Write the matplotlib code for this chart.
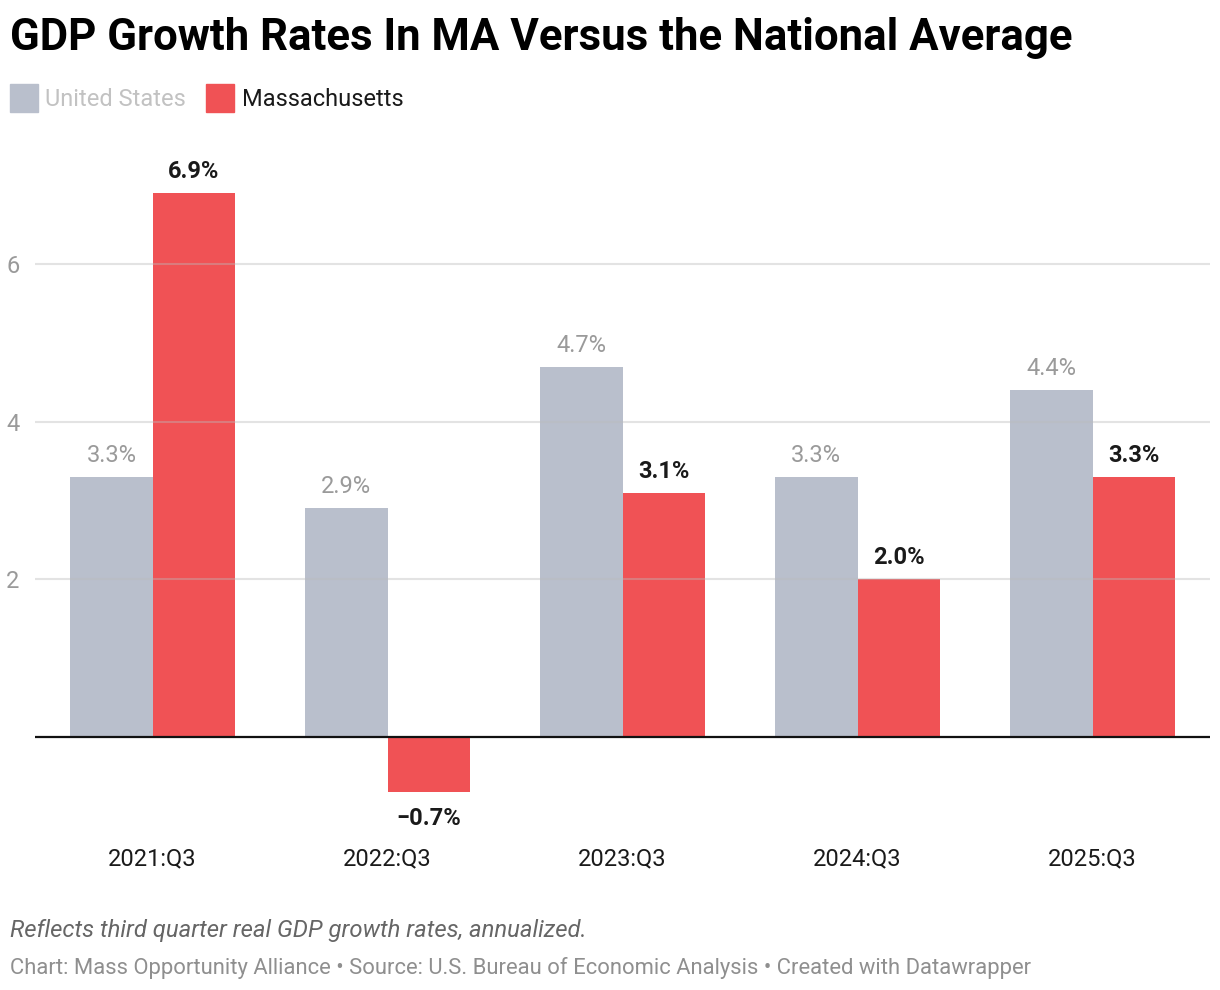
import numpy as np
import matplotlib
matplotlib.use("Agg")
import matplotlib.pyplot as plt
from matplotlib.patches import Rectangle

plt.rcParams['font.family'] = ['Roboto', 'DejaVu Sans']

quarters = ["2021:Q3", "2022:Q3", "2023:Q3", "2024:Q3", "2025:Q3"]
us_growth = [3.3, 2.9, 4.7, 3.3, 4.4]
ma_growth = [6.9, -0.7, 3.1, 2.0, 3.3]
y_ticks = [2, 4, 6]

gray = "#b9bfcc"
red = "#f05255"

W, H = 1220, 990
fig = plt.figure(figsize=(W / 100, H / 100), dpi=100)
fig.patch.set_facecolor("white")

# axes placed in pixel terms: left 35, right 1210, top 150, bottom 800
ax = fig.add_axes([35 / W, 1 - 800 / H, 1175 / W, 650 / H])
ax.set_xlim(-0.5, 4.5)
ax.set_ylim(-0.8, 7.45)

x = np.arange(len(quarters))
bw = 0.35
ax.bar(x - bw / 2, us_growth, width=bw, color=gray, zorder=1)
ax.bar(x + bw / 2, ma_growth, width=bw, color=red, zorder=1)

for t in y_ticks:
    ax.axhline(t, color="#bbbbbb", lw=1.5, alpha=0.4, zorder=2)
ax.axhline(0, color="#111111", lw=1.6, zorder=3)

# value labels
for xi, v in zip(x, us_growth):
    ax.annotate(f"{v:.1f}%", (xi - bw / 2, v), xytext=(0, 15.5), textcoords="offset points",
                ha="center", va="center", fontsize=17, color="#9a9a9a")
for xi, v in zip(x, ma_growth):
    off = 15.5 if v >= 0 else -19
    lab = f"{v:.1f}%".replace("-", "\u2212")
    ax.annotate(lab, (xi + bw / 2, v), xytext=(0, off), textcoords="offset points",
                ha="center", va="center", fontsize=17, color="#1a1a1a", fontweight="bold")

ax.set_yticks(y_ticks)
ax.set_yticklabels([str(t) for t in y_ticks], fontsize=17, color="#9a9a9a")
ax.tick_params(axis="y", length=0, pad=11)
ax.set_xticks(x)
ax.set_xticklabels(quarters, fontsize=17, color="#1a1a1a")
ax.tick_params(axis="x", length=0, pad=34)
for s in ax.spines.values():
    s.set_visible(False)

# title
fig.text(10 / W, 1 - 38 / H, "GDP Growth Rates In MA Versus the National Average",
         fontsize=31.5, fontweight="bold", color="#000000", va="center", ha="left")

# legend
fig.patches.append(Rectangle((10 / W, 1 - 112 / H), 28 / W, 28 / H, transform=fig.transFigure,
                             color=gray))
fig.text(45 / W, 1 - 100 / H, "United States", fontsize=17, color="#c2c2c2", va="center")
fig.patches.append(Rectangle((206 / W, 1 - 112 / H), 28 / W, 28 / H, transform=fig.transFigure,
                             color=red))
fig.text(242 / W, 1 - 100 / H, "Massachusetts", fontsize=17, color="#1a1a1a", va="center")

# footer
fig.text(10 / W, 1 - 931 / H, "Reflects third quarter real GDP growth rates, annualized.",
         fontsize=17.2, style="italic", color="#666666", va="center")
fig.text(10 / W, 1 - 968 / H,
         "Chart: Mass Opportunity Alliance \u2022 Source: U.S. Bureau of Economic Analysis \u2022 Created with Datawrapper",
         fontsize=15.8, color="#8f8f8f", va="center")

fig.savefig("out.png", dpi=100, facecolor="white")
